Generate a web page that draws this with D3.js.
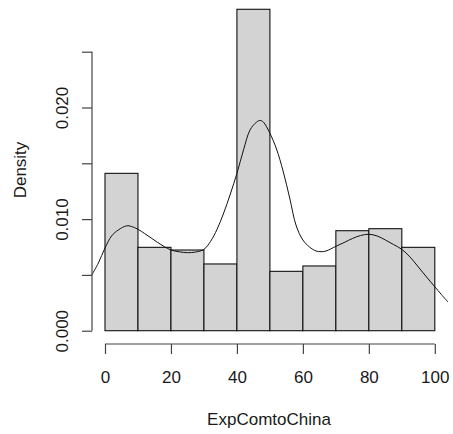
<!DOCTYPE html>
<html>
<head>
<meta charset="utf-8">
<script src="https://cdn.jsdelivr.net/npm/d3@7"></script>
<style>
  html, body { margin: 0; padding: 0; background: #fff; }
  svg { display: block; }
  text { font-family: "Liberation Sans", Arial, sans-serif; fill: #1a1a1a; }
</style>
</head>
<body>
<script>
// Histogram bins (lower edges, width 10) and their densities
const binStarts = [0, 10, 20, 30, 40, 50, 60, 70, 80, 90];
const binWidth = 10;
const densities = [0.0141, 0.00747, 0.00723, 0.00598, 0.0288, 0.00532, 0.0058, 0.00896, 0.00914, 0.00747];

// Kernel density estimate, sampled
const kdeX = [-4, -2, 0, 2, 4, 6.6, 8, 10, 12, 14, 16, 18, 20, 22.5, 25, 27.5, 30, 32, 34, 36, 38,
              40, 42, 44, 46, 47, 48, 50, 52, 54, 56, 58, 60, 62, 64, 65.5, 67, 70, 72.5, 75, 77.5,
              80, 82.5, 85, 87.5, 90, 92.5, 95, 97.5, 100, 102, 104];
const kdeY = [0.0050, 0.00607, 0.00741, 0.00849, 0.00902, 0.0094, 0.00934, 0.00909, 0.00871, 0.00831,
              0.0079, 0.00753, 0.00723, 0.00707, 0.00699, 0.00705, 0.00729, 0.00800, 0.0091, 0.01055,
              0.01225, 0.01409, 0.0162, 0.0180, 0.0187, 0.01884, 0.0187, 0.01769, 0.01628, 0.01431,
              0.01189, 0.00938, 0.00813, 0.0075, 0.00714, 0.00708, 0.00714, 0.00756, 0.0079, 0.00826,
              0.00853, 0.00864, 0.00849, 0.00813, 0.00772, 0.00729, 0.0066, 0.00571, 0.00481, 0.00394,
              0.00324, 0.00257];

// Axis ticks
const xTicks = [0, 20, 40, 60, 80, 100];
const yTicks = [0, 0.005, 0.010, 0.015, 0.020, 0.025];
const yLabelled = [0, 0.010, 0.020];

const W = 453, H = 434;
const svg = d3.select("body").append("svg").attr("width", W).attr("height", H);

const x = d3.scaleLinear().domain([-4, 104]).range([91.8, 448]);
const y = d3.scaleLinear().domain([0, 0.025]).range([330.7, 51.7]);

// Bars
svg.append("g").selectAll("rect")
  .data(binStarts.map((s, i) => ({ x0: s, x1: s + binWidth, d: densities[i] })))
  .join("rect")
  .attr("x", d => x(d.x0))
  .attr("y", d => y(d.d))
  .attr("width", d => x(d.x1) - x(d.x0))
  .attr("height", d => y(0) - y(d.d))
  .attr("fill", "#d3d3d3")
  .attr("stroke", "#111")
  .attr("stroke-width", 1.1);

// Density curve
const line = d3.line().x(d => x(d[0])).y(d => y(d[1])).curve(d3.curveCatmullRom);
svg.append("path")
  .datum(kdeX.map((v, i) => [v, kdeY[i]]))
  .attr("d", line)
  .attr("fill", "none")
  .attr("stroke", "#111")
  .attr("stroke-width", 1);

const axisColor = "#444";

// X axis
const xAxisY = 344;
const gx = svg.append("g").attr("transform", `translate(0,${xAxisY})`)
  .call(d3.axisBottom(x).tickValues(xTicks).tickSize(10).tickSizeOuter(0).tickPadding(16.5));
gx.select(".domain").remove();
gx.append("line")
  .attr("x1", x(xTicks[0])).attr("x2", x(xTicks[xTicks.length - 1]))
  .attr("stroke", axisColor).attr("stroke-width", 1.2);
gx.selectAll(".tick line").attr("stroke", axisColor).attr("stroke-width", 1.2);
gx.selectAll(".tick text").style("font-size", "17px").attr("fill", "#1a1a1a");

// Y axis
const yAxisX = 92;
const gy = svg.append("g").attr("transform", `translate(${yAxisX},0)`)
  .call(d3.axisLeft(y).tickValues(yTicks).tickSize(10).tickSizeOuter(0)
    .tickFormat(d => yLabelled.some(v => Math.abs(v - d) < 1e-9) ? d3.format(".3f")(d) : ""));
gy.select(".domain").remove();
gy.append("line")
  .attr("y1", y(yTicks[0])).attr("y2", y(yTicks[yTicks.length - 1]))
  .attr("stroke", axisColor).attr("stroke-width", 1.2);
gy.selectAll(".tick line").attr("stroke", axisColor).attr("stroke-width", 1.2);
gy.selectAll(".tick text")
  .attr("x", 0).attr("dy", null).attr("y", 0)
  .attr("text-anchor", "middle")
  .attr("transform", "translate(-24.5,0) rotate(-90)")
  .style("font-size", "17px").attr("fill", "#1a1a1a");

// Axis titles
svg.append("text")
  .attr("x", 269).attr("y", 425)
  .attr("text-anchor", "middle")
  .style("font-size", "17px")
  .text("ExpComtoChina");

svg.append("text")
  .attr("transform", "translate(26,170) rotate(-90)")
  .attr("text-anchor", "middle")
  .style("font-size", "17px")
  .text("Density");
</script>
</body>
</html>
